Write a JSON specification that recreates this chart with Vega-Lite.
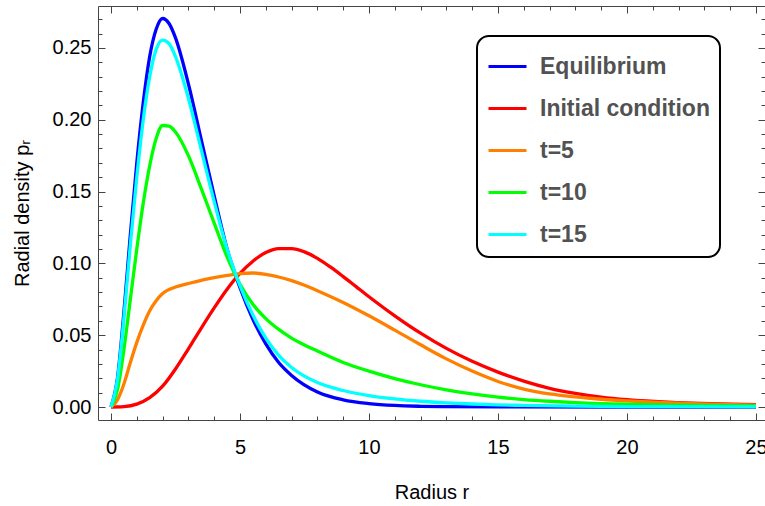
{
  "$schema": "https://vega.github.io/schema/vega-lite/v6.json",
  "width": 667,
  "height": 414,
  "autosize": {"type": "none"},
  "padding": {"left": 98, "top": 6, "right": 0, "bottom": 86},
  "config": {
    "view": {"stroke": null},
    "font": "Liberation Sans",
    "axis": {
      "grid": false,
      "domainColor": "#444",
      "tickColor": "#444",
      "domainWidth": 1,
      "tickWidth": 1,
      "labelFont": "Liberation Sans",
      "labelFontSize": 20,
      "labelColor": "black",
      "titleFont": "Liberation Sans",
      "titleFontSize": 20,
      "titleFontWeight": "normal",
      "titleColor": "black",
      "labelFlush": false,
      "labelOverlap": false
    }
  },
  "data": {
    "values": [
      {"s": "Equilibrium", "r": 0, "p": 0},
      {"s": "Equilibrium", "r": 0.25, "p": 0.02},
      {"s": "Equilibrium", "r": 0.5, "p": 0.066},
      {"s": "Equilibrium", "r": 0.75, "p": 0.12},
      {"s": "Equilibrium", "r": 1, "p": 0.17},
      {"s": "Equilibrium", "r": 1.25, "p": 0.212},
      {"s": "Equilibrium", "r": 1.5, "p": 0.244},
      {"s": "Equilibrium", "r": 1.75, "p": 0.263},
      {"s": "Equilibrium", "r": 2, "p": 0.2705},
      {"s": "Equilibrium", "r": 2.25, "p": 0.267},
      {"s": "Equilibrium", "r": 2.5, "p": 0.257},
      {"s": "Equilibrium", "r": 3, "p": 0.225},
      {"s": "Equilibrium", "r": 3.5, "p": 0.186},
      {"s": "Equilibrium", "r": 4, "p": 0.147},
      {"s": "Equilibrium", "r": 4.5, "p": 0.11},
      {"s": "Equilibrium", "r": 5, "p": 0.083},
      {"s": "Equilibrium", "r": 5.5, "p": 0.061},
      {"s": "Equilibrium", "r": 6, "p": 0.044},
      {"s": "Equilibrium", "r": 6.5, "p": 0.031},
      {"s": "Equilibrium", "r": 7, "p": 0.022},
      {"s": "Equilibrium", "r": 8, "p": 0.0105},
      {"s": "Equilibrium", "r": 9, "p": 0.005},
      {"s": "Equilibrium", "r": 10, "p": 0.0024},
      {"s": "Equilibrium", "r": 11, "p": 0.0011},
      {"s": "Equilibrium", "r": 12, "p": 0.0005},
      {"s": "Equilibrium", "r": 13, "p": 0.0002},
      {"s": "Equilibrium", "r": 15, "p": 0.00005},
      {"s": "Equilibrium", "r": 20, "p": 0},
      {"s": "Equilibrium", "r": 25, "p": 0},

      {"s": "Initial condition", "r": 0, "p": 0},
      {"s": "Initial condition", "r": 0.5, "p": 0.0003},
      {"s": "Initial condition", "r": 1, "p": 0.002},
      {"s": "Initial condition", "r": 1.5, "p": 0.0065},
      {"s": "Initial condition", "r": 2, "p": 0.0145},
      {"s": "Initial condition", "r": 2.5, "p": 0.0265},
      {"s": "Initial condition", "r": 3, "p": 0.0405},
      {"s": "Initial condition", "r": 3.5, "p": 0.055},
      {"s": "Initial condition", "r": 4, "p": 0.069},
      {"s": "Initial condition", "r": 4.5, "p": 0.082},
      {"s": "Initial condition", "r": 5, "p": 0.093},
      {"s": "Initial condition", "r": 5.5, "p": 0.1015},
      {"s": "Initial condition", "r": 6, "p": 0.1075},
      {"s": "Initial condition", "r": 6.5, "p": 0.1103},
      {"s": "Initial condition", "r": 7, "p": 0.1103},
      {"s": "Initial condition", "r": 7.5, "p": 0.108},
      {"s": "Initial condition", "r": 8, "p": 0.1035},
      {"s": "Initial condition", "r": 8.5, "p": 0.0975},
      {"s": "Initial condition", "r": 9, "p": 0.0908},
      {"s": "Initial condition", "r": 9.5, "p": 0.0838},
      {"s": "Initial condition", "r": 10, "p": 0.0768},
      {"s": "Initial condition", "r": 11, "p": 0.0635},
      {"s": "Initial condition", "r": 12, "p": 0.0514},
      {"s": "Initial condition", "r": 13, "p": 0.0408},
      {"s": "Initial condition", "r": 14, "p": 0.0318},
      {"s": "Initial condition", "r": 15, "p": 0.0243},
      {"s": "Initial condition", "r": 16, "p": 0.018},
      {"s": "Initial condition", "r": 17, "p": 0.013},
      {"s": "Initial condition", "r": 18, "p": 0.0095},
      {"s": "Initial condition", "r": 19, "p": 0.0069},
      {"s": "Initial condition", "r": 20, "p": 0.0051},
      {"s": "Initial condition", "r": 22, "p": 0.0031},
      {"s": "Initial condition", "r": 25, "p": 0.0017},

      {"s": "t=5", "r": 0, "p": 0},
      {"s": "t=5", "r": 0.25, "p": 0.005},
      {"s": "t=5", "r": 0.5, "p": 0.016},
      {"s": "t=5", "r": 0.75, "p": 0.031},
      {"s": "t=5", "r": 1, "p": 0.045},
      {"s": "t=5", "r": 1.25, "p": 0.057},
      {"s": "t=5", "r": 1.5, "p": 0.067},
      {"s": "t=5", "r": 1.75, "p": 0.074},
      {"s": "t=5", "r": 2, "p": 0.079},
      {"s": "t=5", "r": 2.5, "p": 0.0835},
      {"s": "t=5", "r": 3, "p": 0.086},
      {"s": "t=5", "r": 3.5, "p": 0.0882},
      {"s": "t=5", "r": 4, "p": 0.09},
      {"s": "t=5", "r": 4.5, "p": 0.0916},
      {"s": "t=5", "r": 5, "p": 0.0929},
      {"s": "t=5", "r": 5.5, "p": 0.0933},
      {"s": "t=5", "r": 6, "p": 0.0924},
      {"s": "t=5", "r": 6.5, "p": 0.0905},
      {"s": "t=5", "r": 7, "p": 0.088},
      {"s": "t=5", "r": 7.5, "p": 0.0848},
      {"s": "t=5", "r": 8, "p": 0.081},
      {"s": "t=5", "r": 9, "p": 0.0728},
      {"s": "t=5", "r": 10, "p": 0.0635},
      {"s": "t=5", "r": 11, "p": 0.0535},
      {"s": "t=5", "r": 12, "p": 0.0433},
      {"s": "t=5", "r": 13, "p": 0.0335},
      {"s": "t=5", "r": 14, "p": 0.025},
      {"s": "t=5", "r": 15, "p": 0.0178},
      {"s": "t=5", "r": 16, "p": 0.0125},
      {"s": "t=5", "r": 17, "p": 0.0091},
      {"s": "t=5", "r": 18, "p": 0.007},
      {"s": "t=5", "r": 19, "p": 0.0054},
      {"s": "t=5", "r": 20, "p": 0.0042},
      {"s": "t=5", "r": 22, "p": 0.0026},
      {"s": "t=5", "r": 25, "p": 0.0013},

      {"s": "t=10", "r": 0, "p": 0},
      {"s": "t=10", "r": 0.25, "p": 0.012},
      {"s": "t=10", "r": 0.5, "p": 0.04},
      {"s": "t=10", "r": 0.75, "p": 0.075},
      {"s": "t=10", "r": 1, "p": 0.11},
      {"s": "t=10", "r": 1.25, "p": 0.142},
      {"s": "t=10", "r": 1.5, "p": 0.168},
      {"s": "t=10", "r": 1.75, "p": 0.187},
      {"s": "t=10", "r": 2, "p": 0.196},
      {"s": "t=10", "r": 2.25, "p": 0.1955},
      {"s": "t=10", "r": 2.5, "p": 0.1915},
      {"s": "t=10", "r": 3, "p": 0.175},
      {"s": "t=10", "r": 3.5, "p": 0.152},
      {"s": "t=10", "r": 4, "p": 0.128},
      {"s": "t=10", "r": 4.5, "p": 0.1045},
      {"s": "t=10", "r": 5, "p": 0.0855},
      {"s": "t=10", "r": 5.5, "p": 0.0715},
      {"s": "t=10", "r": 6, "p": 0.0615},
      {"s": "t=10", "r": 6.5, "p": 0.054},
      {"s": "t=10", "r": 7, "p": 0.048},
      {"s": "t=10", "r": 7.5, "p": 0.0432},
      {"s": "t=10", "r": 8, "p": 0.039},
      {"s": "t=10", "r": 9, "p": 0.031},
      {"s": "t=10", "r": 10, "p": 0.025},
      {"s": "t=10", "r": 11, "p": 0.0198},
      {"s": "t=10", "r": 12, "p": 0.0155},
      {"s": "t=10", "r": 13, "p": 0.012},
      {"s": "t=10", "r": 14, "p": 0.0092},
      {"s": "t=10", "r": 15, "p": 0.0069},
      {"s": "t=10", "r": 16, "p": 0.0052},
      {"s": "t=10", "r": 17, "p": 0.004},
      {"s": "t=10", "r": 18, "p": 0.0031},
      {"s": "t=10", "r": 20, "p": 0.0019},
      {"s": "t=10", "r": 22, "p": 0.0013},
      {"s": "t=10", "r": 25, "p": 0.0008},

      {"s": "t=15", "r": 0, "p": 0},
      {"s": "t=15", "r": 0.25, "p": 0.019},
      {"s": "t=15", "r": 0.5, "p": 0.062},
      {"s": "t=15", "r": 0.75, "p": 0.113},
      {"s": "t=15", "r": 1, "p": 0.16},
      {"s": "t=15", "r": 1.25, "p": 0.2},
      {"s": "t=15", "r": 1.5, "p": 0.23},
      {"s": "t=15", "r": 1.75, "p": 0.249},
      {"s": "t=15", "r": 2, "p": 0.2555},
      {"s": "t=15", "r": 2.25, "p": 0.253},
      {"s": "t=15", "r": 2.5, "p": 0.244},
      {"s": "t=15", "r": 3, "p": 0.215},
      {"s": "t=15", "r": 3.5, "p": 0.179},
      {"s": "t=15", "r": 4, "p": 0.143},
      {"s": "t=15", "r": 4.5, "p": 0.11},
      {"s": "t=15", "r": 5, "p": 0.0845},
      {"s": "t=15", "r": 5.5, "p": 0.064},
      {"s": "t=15", "r": 6, "p": 0.048},
      {"s": "t=15", "r": 6.5, "p": 0.036},
      {"s": "t=15", "r": 7, "p": 0.0275},
      {"s": "t=15", "r": 8, "p": 0.017},
      {"s": "t=15", "r": 9, "p": 0.0115},
      {"s": "t=15", "r": 10, "p": 0.008},
      {"s": "t=15", "r": 11, "p": 0.0056},
      {"s": "t=15", "r": 12, "p": 0.004},
      {"s": "t=15", "r": 13, "p": 0.0029},
      {"s": "t=15", "r": 14, "p": 0.0021},
      {"s": "t=15", "r": 15, "p": 0.0015},
      {"s": "t=15", "r": 16, "p": 0.0011},
      {"s": "t=15", "r": 18, "p": 0.0006},
      {"s": "t=15", "r": 20, "p": 0.0003},
      {"s": "t=15", "r": 22, "p": 0.0002},
      {"s": "t=15", "r": 25, "p": 0.0001}
    ]
  },
  "layer": [
    {
      "mark": {"type": "line", "strokeWidth": 3.3, "interpolate": "monotone", "clip": true},
      "encoding": {
        "x": {
          "field": "r", "type": "quantitative",
          "scale": {"domain": [-0.504, 25.35], "nice": false, "zero": false},
          "axis": {
            "orient": "bottom",
            "values": [0, 5, 10, 15, 20, 25],
            "tickSize": -7,
            "labelPadding": 24,
            "title": "Radius r",
            "titlePadding": 25
          }
        },
        "y": {
          "field": "p", "type": "quantitative",
          "scale": {"domain": [-0.00905, 0.2792], "nice": false, "zero": false},
          "axis": {
            "orient": "left",
            "values": [0, 0.05, 0.1, 0.15, 0.2, 0.25],
            "format": ".2f",
            "tickSize": -7,
            "labelPadding": 14,
            "title": "Radial density pᵣ",
            "titlePadding": 20
          }
        },
        "color": {
          "field": "s", "type": "nominal",
          "scale": {
            "domain": ["Equilibrium", "Initial condition", "t=5", "t=10", "t=15"],
            "range": ["#0000FF", "#FF0000", "#FF8000", "#00FF00", "#00FFFF"]
          },
          "legend": {
            "orient": "none",
            "legendX": 379,
            "legendY": 30,
            "title": null,
            "symbolType": "stroke",
            "symbolSize": 1444,
            "symbolStrokeWidth": 3,
            "labelFont": "Liberation Sans",
            "labelFontSize": 23,
            "labelFontWeight": "bold",
            "labelColor": "#525252",
            "labelOffset": 12,
            "labelLimit": 400,
            "padding": 10,
            "rowPadding": 9,
            "strokeColor": "black",
            "cornerRadius": 12,
            "fillColor": "white",
            "encode": {"legend": {"update": {"strokeWidth": {"value": 2}}}}
          }
        }
      }
    },
    {
      "mark": {"type": "line", "opacity": 0},
      "encoding": {
        "x": {
          "field": "r", "type": "quantitative",
          "axis": {
            "orient": "bottom",
            "values": [1, 2, 3, 4, 6, 7, 8, 9, 11, 12, 13, 14, 16, 17, 18, 19, 21, 22, 23, 24],
            "tickSize": -4,
            "labels": false,
            "domain": false,
            "title": null
          }
        },
        "y": {
          "field": "p", "type": "quantitative",
          "axis": {
            "orient": "left",
            "values": [0.01, 0.02, 0.03, 0.04, 0.06, 0.07, 0.08, 0.09, 0.11, 0.12, 0.13, 0.14, 0.16, 0.17, 0.18, 0.19, 0.21, 0.22, 0.23, 0.24, 0.26, 0.27],
            "tickSize": -4,
            "labels": false,
            "domain": false,
            "title": null
          }
        }
      }
    },
    {
      "mark": {"type": "line", "opacity": 0},
      "encoding": {
        "x": {
          "field": "r", "type": "quantitative",
          "axis": {
            "orient": "top",
            "values": [0, 5, 10, 15, 20, 25],
            "tickSize": -7,
            "labels": false,
            "title": null
          }
        },
        "y": {
          "field": "p", "type": "quantitative",
          "axis": {
            "orient": "right",
            "values": [0, 0.05, 0.1, 0.15, 0.2, 0.25],
            "tickSize": -7,
            "labels": false,
            "domain": false,
            "title": null
          }
        }
      }
    },
    {
      "mark": {"type": "line", "opacity": 0},
      "encoding": {
        "x": {
          "field": "r", "type": "quantitative",
          "axis": {
            "orient": "top",
            "values": [1, 2, 3, 4, 6, 7, 8, 9, 11, 12, 13, 14, 16, 17, 18, 19, 21, 22, 23, 24],
            "tickSize": -4,
            "labels": false,
            "domain": false,
            "title": null
          }
        },
        "y": {
          "field": "p", "type": "quantitative",
          "axis": {
            "orient": "right",
            "values": [0.01, 0.02, 0.03, 0.04, 0.06, 0.07, 0.08, 0.09, 0.11, 0.12, 0.13, 0.14, 0.16, 0.17, 0.18, 0.19, 0.21, 0.22, 0.23, 0.24, 0.26, 0.27],
            "tickSize": -4,
            "labels": false,
            "domain": false,
            "title": null
          }
        }
      }
    }
  ],
  "resolve": {"axis": {"x": "independent", "y": "independent"}}
}
